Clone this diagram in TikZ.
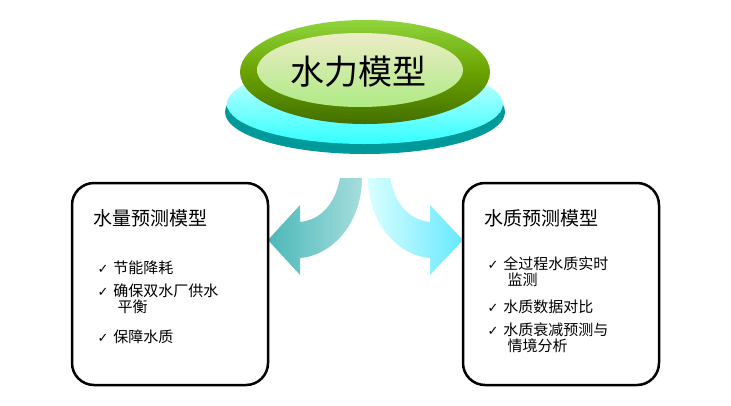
\documentclass[tikz,border=0pt]{standalone}
\usepackage{fontspec}
\setmainfont{Noto Sans CJK SC}
\newfontfamily\symfont{DejaVu Sans}
\tikzset{
  panel/.style={draw=black, line width=2.5pt, rounded corners=22pt, fill=white},
  ptitle/.style={anchor=west, font=\fontsize{19}{22}\selectfont},
  pitem/.style={anchor=north west, font=\fontsize{15}{16}\selectfont, align=left, text width=140pt},
}
\newcommand{\tick}{{\symfont\fontsize{13}{14}\selectfont\bfseries ✓}}
\begin{document}
\begin{tikzpicture}[x=1pt,y=-1pt]
    \useasboundingbox (0,0) rectangle (731,405);
    \fill[white] (0,0) rectangle (731,405);

    % base disk
    \fill[teal!80!cyan] (365,112) ellipse (140 and 42);
    \shade[top color=cyan!15, bottom color=cyan!80] (365,104) ellipse (138 and 40);
    % green cap
    \shade[top color=olive!55!green!60, bottom color=olive!75!green!70!black] (365,72) ellipse (125 and 52);
    \shade[top color=white!85!olive, bottom color=olive!40!green!40] (360,70) ellipse (103 and 37);
    \node (hub) at (358,72) {\fontsize{34}{40}\selectfont 水力模型};

    % arrows
    \shade[left color=teal!80!cyan!70, right color=cyan!25!teal!35]
      (340,178) .. controls (335,205) and (320,220) .. (300,222) -- (300,205) -- (268,240)
      -- (300,275) -- (300,258) .. controls (335,255) and (362,220) .. (362,178) -- cycle;
    \shade[right color=cyan!85!blue!60, left color=cyan!15]
      (390,178) .. controls (395,205) and (410,220) .. (430,222) -- (430,205) -- (463,240)
      -- (430,275) -- (430,258) .. controls (395,255) and (368,220) .. (368,178) -- cycle;

    % panels
    \draw[panel] (72,183) rectangle (268,385);
    \draw[panel] (463,183) rectangle (659,385);

    \node[ptitle] (qty) at (90,218) {水量预测模型};
    \node[pitem] (q1) at (94,257) {\tick\ 节能降耗};
    \node[pitem] (q2) at (94,280) {\tick\ 确保双水厂供水\\\hspace{20pt}平衡};
    \node[pitem] (q3) at (94,326) {\tick\ 保障水质};

    \node[ptitle] (qly) at (481,218) {水质预测模型};
    \node[pitem] (w1) at (484,253) {\tick\ 全过程水质实时\\\hspace{20pt}监测};
    \node[pitem] (w2) at (484,296) {\tick\ 水质数据对比};
    \node[pitem] (w3) at (484,319) {\tick\ 水质衰减预测与\\\hspace{20pt}情境分析};
\end{tikzpicture}
\end{document}
